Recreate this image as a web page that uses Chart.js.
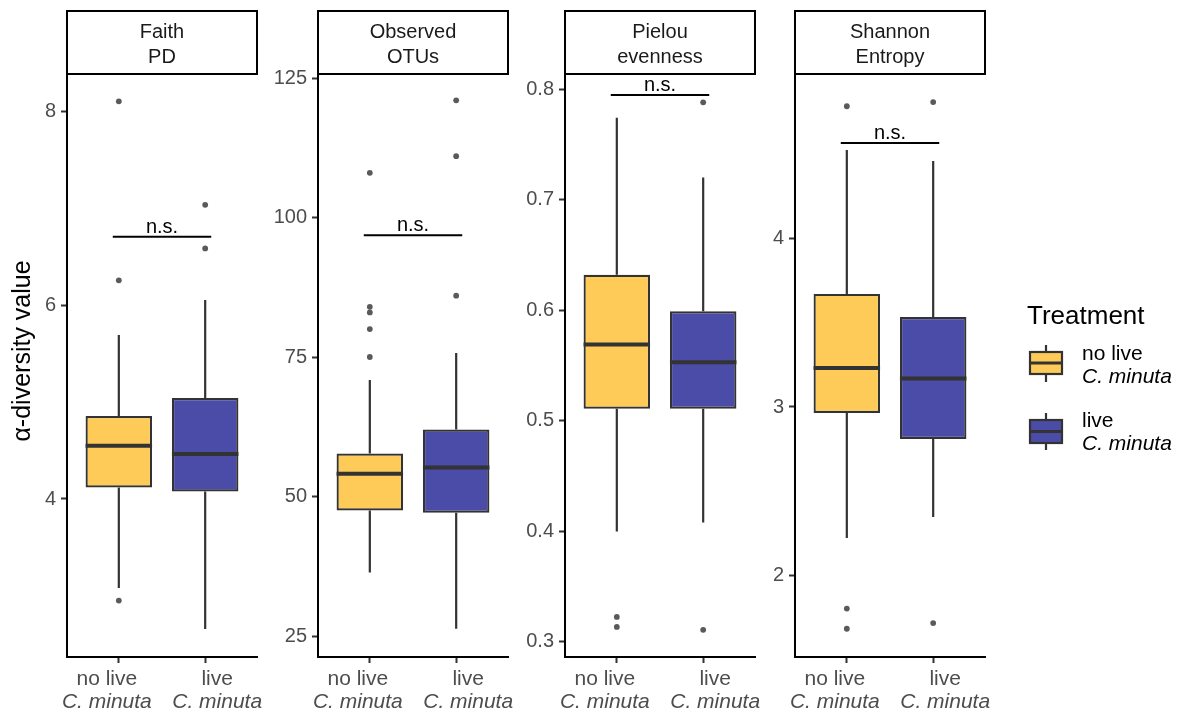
<!DOCTYPE html>
<html>
<head>
<meta charset="utf-8">
<script src="https://cdn.jsdelivr.net/npm/chart.js@4.4.1/dist/chart.umd.min.js"></script>
<style>
  html, body { margin:0; padding:0; background:#ffffff; }
  #wrap { position:relative; width:1181px; height:711px; overflow:hidden; background:#fff; }
  #wrap canvas { position:absolute; left:0; top:0; }
</style>
</head>
<body>
<div id="wrap">
  <canvas id="c0" width="1181" height="711"></canvas>
  <canvas id="c1" width="1181" height="711"></canvas>
  <canvas id="c2" width="1181" height="711"></canvas>
  <canvas id="c3" width="1181" height="711"></canvas>
</div>
<script>
// ---------------- DATA ----------------
const panelTitles = [["Faith", "PD"], ["Observed", "OTUs"], ["Pielou", "evenness"], ["Shannon", "Entropy"]];
const groupLabels = ["no live", "live"];
const speciesLabel = "C. minuta";
const legendTitle = "Treatment";
const yAxisTitle = "α-diversity value";
const signifLabel = "n.s.";

const yTicks = [[4, 6, 8], [25, 50, 75, 100, 125], [0.3, 0.4, 0.5, 0.6, 0.7, 0.8], [2, 3, 4]];
const yMin = [2.367, 21.24, 0.2864, 1.512];
const yMax = [8.382, 125.54, 0.8127, 4.976];

// per panel: [no live, live]
const whiskerLow  = [[3.08, 2.656], [36.4, 26.3], [0.400, 0.408], [2.22, 2.345]];
const q1          = [[4.119, 4.078], [47.5, 47.1], [0.511, 0.511], [2.964, 2.81]];
const median      = [[4.551, 4.465], [54.1, 55.2], [0.569, 0.553], [3.232, 3.17]];
const q3          = [[4.858, 5.044], [57.7, 62.0], [0.632, 0.599], [3.673, 3.536]];
const whiskerHigh = [[5.695, 6.057], [70.9, 75.7], [0.774, 0.720], [4.53, 4.464]];
const outliersNoLive = [[8.11, 6.26, 2.95], [108, 84, 83, 80, 75], [0.3226, 0.3136], [4.79, 1.80, 1.68]];
const outliersLive   = [[7.04, 6.59], [121, 111, 86], [0.788, 0.311], [4.815, 1.714]];
const signifY = [6.71, 96.8, 0.7946, 4.571];

// ---------------- LAYOUT / STYLE ----------------
const FONT = '"Liberation Sans", Arial, Helvetica, sans-serif';
const fills = ["#FECB58", "#4B4BA8"];
const panelStart = [0, 262, 512, 760];
const plotLeft = [67, 318, 565, 795];
const plotW = 190;

function makePlugin(i) {
  return {
    id: 'boxplot' + i,
    beforeDatasetsDraw(chart) {
      const ctx = chart.ctx, xs = chart.scales.x, ys = chart.scales.y;
      ctx.save();
      ctx.strokeStyle = '#333333';
      ctx.lineWidth = 2.2;
      for (let j = 0; j < 2; j++) {
        const x = xs.getPixelForValue(j + 1);
        ctx.beginPath();
        ctx.moveTo(x, ys.getPixelForValue(whiskerLow[i][j]));
        ctx.lineTo(x, ys.getPixelForValue(q1[i][j]));
        ctx.moveTo(x, ys.getPixelForValue(q3[i][j]));
        ctx.lineTo(x, ys.getPixelForValue(whiskerHigh[i][j]));
        ctx.stroke();
      }
      ctx.restore();
    },
    afterDatasetsDraw(chart) {
      const ctx = chart.ctx, xs = chart.scales.x, ys = chart.scales.y;
      const meta = chart.getDatasetMeta(0);
      ctx.save();
      ctx.strokeStyle = '#333333';
      ctx.lineWidth = 4;
      for (let j = 0; j < 2; j++) {
        const el = meta.data[j];
        const x = xs.getPixelForValue(j + 1);
        const hw = el.width / 2;
        const y = ys.getPixelForValue(median[i][j]);
        ctx.beginPath();
        ctx.moveTo(x - hw, y);
        ctx.lineTo(x + hw, y);
        ctx.stroke();
      }
      // significance bracket
      const by = ys.getPixelForValue(signifY[i]);
      const bx1 = xs.getPixelForValue(0.93), bx2 = xs.getPixelForValue(2.07);
      ctx.strokeStyle = '#000';
      ctx.lineWidth = 2;
      ctx.beginPath();
      ctx.moveTo(bx1, by);
      ctx.lineTo(bx2, by);
      ctx.stroke();
      ctx.fillStyle = '#000';
      ctx.font = '20px ' + FONT;
      ctx.textAlign = 'center';
      ctx.textBaseline = 'alphabetic';
      ctx.fillText(signifLabel, (bx1 + bx2) / 2, by - 4);
      ctx.restore();
    },
    afterDraw(chart) {
      const ctx = chart.ctx, xs = chart.scales.x, ca = chart.chartArea;
      ctx.save();
      // strip
      ctx.fillStyle = '#fff';
      ctx.fillRect(ca.left, 11, ca.right - ca.left, 63);
      ctx.strokeStyle = '#000';
      ctx.lineWidth = 2;
      ctx.strokeRect(ca.left, 11, ca.right - ca.left, 63);
      ctx.fillStyle = '#1a1a1a';
      ctx.font = '20px ' + FONT;
      ctx.textAlign = 'center';
      ctx.textBaseline = 'middle';
      const cx = (ca.left + ca.right) / 2;
      ctx.fillText(panelTitles[i][0], cx, 32);
      ctx.fillText(panelTitles[i][1], cx, 57);
      // x labels
      ctx.fillStyle = '#4d4d4d';
      for (let j = 0; j < 2; j++) {
        const x = xs.getPixelForValue(j + 1) + (j === 0 ? -12 : 12);
        ctx.font = '21px ' + FONT;
        ctx.fillText(groupLabels[j], x, 679);
        ctx.font = 'italic 21px ' + FONT;
        ctx.fillText(speciesLabel, x, 702);
      }
      // y title
      if (i === 0) {
        ctx.save();
        ctx.translate(23, 351);
        ctx.rotate(-Math.PI / 2);
        ctx.fillStyle = '#000';
        ctx.font = '25px ' + FONT;
        ctx.textAlign = 'center';
        ctx.textBaseline = 'middle';
        ctx.fillText(yAxisTitle, 0, 0);
        ctx.restore();
      }
      // legend
      if (i === 3) {
        ctx.fillStyle = '#000';
        ctx.textAlign = 'left';
        ctx.textBaseline = 'middle';
        ctx.font = '26px ' + FONT;
        ctx.fillText(legendTitle, 1027, 317);
        const keys = [
          {top: 352, bot: 374, wt: 345, wb: 382, ly1: 354, ly2: 377},
          {top: 420, bot: 443, wt: 413, wb: 450, ly1: 421, ly2: 444}
        ];
        keys.forEach((k, j) => {
          const kx = 1046;
          ctx.strokeStyle = '#333';
          ctx.lineWidth = 2.2;
          ctx.beginPath();
          ctx.moveTo(kx, k.wt); ctx.lineTo(kx, k.top);
          ctx.moveTo(kx, k.bot); ctx.lineTo(kx, k.wb);
          ctx.stroke();
          ctx.fillStyle = fills[j];
          ctx.fillRect(1030, k.top, 32, k.bot - k.top);
          ctx.strokeRect(1030, k.top, 32, k.bot - k.top);
          ctx.lineWidth = 3;
          ctx.beginPath();
          const my = (k.top + k.bot) / 2;
          ctx.moveTo(1030, my); ctx.lineTo(1062, my);
          ctx.stroke();
          ctx.fillStyle = '#000';
          ctx.font = '21px ' + FONT;
          ctx.fillText(groupLabels[j], 1082, k.ly1);
          ctx.font = 'italic 21px ' + FONT;
          ctx.fillText(speciesLabel, 1082, k.ly2);
        });
      }
      ctx.restore();
    }
  };
}

for (let i = 0; i < 4; i++) {
  const ctx = document.getElementById('c' + i).getContext('2d');
  const pts = outliersNoLive[i].map(v => ({x: 1, y: v})).concat(outliersLive[i].map(v => ({x: 2, y: v})));
  new Chart(ctx, {
    type: 'bar',
    data: {
      datasets: [
        {
          type: 'bar',
          data: groupLabels.map((g, j) => ({x: j + 1, y: [q1[i][j], q3[i][j]]})),
          backgroundColor: fills,
          borderColor: '#333333',
          borderWidth: 2.2,
          borderSkipped: false,
          barPercentage: 0.77,
          categoryPercentage: 1,
          order: 2
        },
        {
          type: 'scatter',
          data: pts,
          pointRadius: 2.9,
          pointBackgroundColor: '#5a5a5a',
          pointBorderWidth: 0,
          order: 1
        }
      ]
    },
    options: {
      responsive: false,
      animation: false,
      devicePixelRatio: 1,
      events: [],
      layout: { padding: { left: panelStart[i], right: 1181 - (plotLeft[i] + plotW), top: 75, bottom: 0 } },
      plugins: { legend: { display: false }, tooltip: { enabled: false }, title: { display: false } },
      scales: {
        x: {
          type: 'linear', min: 0.4, max: 2.6, offset: false,
          afterBuildTicks: s => { s.ticks = [{value: 1}, {value: 2}]; },
          afterFit: s => { s.height = 54; },
          ticks: { display: false },
          grid: { offset: false, drawOnChartArea: false, drawTicks: true, tickLength: 6, tickColor: '#333', tickWidth: 2 },
          border: { display: true, color: '#000', width: 2 }
        },
        y: {
          type: 'linear', min: yMin[i], max: yMax[i],
          afterBuildTicks: s => { s.ticks = yTicks[i].map(v => ({value: v})); },
          afterFit: s => { s.width = plotLeft[i] - panelStart[i]; },
          ticks: { font: { family: FONT, size: 20 }, color: '#4d4d4d', padding: 5, callback: v => String(v) },
          grid: { drawOnChartArea: false, drawTicks: true, tickLength: 6, tickColor: '#333', tickWidth: 2 },
          border: { display: true, color: '#000', width: 2 }
        }
      }
    },
    plugins: [makePlugin(i)]
  });
}
</script>
</body>
</html>
